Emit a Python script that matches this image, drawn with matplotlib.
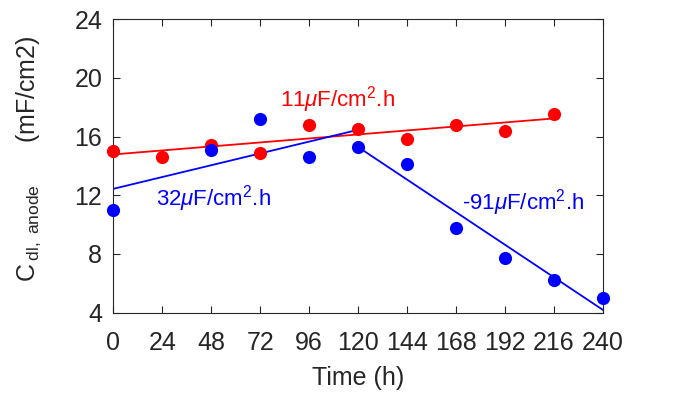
import matplotlib
matplotlib.use("Agg")
import matplotlib.pyplot as plt

plt.rcParams['font.family'] = ['Liberation Sans', 'DejaVu Sans']
plt.rcParams['mathtext.fontset'] = 'custom'
plt.rcParams['mathtext.rm'] = 'Liberation Sans'
plt.rcParams['mathtext.it'] = 'Liberation Sans:italic'
plt.rcParams['mathtext.default'] = 'regular'

# Data
time_red = [0, 24, 48, 72, 96, 120, 144, 168, 192, 216]
cdl_red = [15.0, 14.6, 15.4, 14.85, 16.8, 16.5, 15.8, 16.8, 16.35, 17.5]
time_blue = [0, 48, 72, 96, 120, 144, 168, 192, 216, 240]
cdl_blue = [11.0, 15.1, 17.2, 14.6, 15.3, 14.1, 9.8, 7.75, 6.2, 5.0]

# Fitted trend lines (endpoints)
fit_red_x = [0, 216]
fit_red_y = [14.78, 17.23]
fit_blue1_x = [0, 118]
fit_blue1_y = [12.44, 16.39]
fit_blue2_x = [122, 240]
fit_blue2_y = [15.1, 4.2]

xticks = [0, 24, 48, 72, 96, 120, 144, 168, 192, 216, 240]
yticks = [4, 8, 12, 16, 20, 24]

RED = '#ff0000'
BLUE = '#0000ff'
TXT = '#262626'

fig = plt.figure(figsize=(6.89, 3.97), dpi=100)
ax = fig.add_axes([0.1647, 0.2123, 0.7101, 0.7397])

ax.plot(fit_red_x, fit_red_y, color=RED, lw=1.3, zorder=2)
ax.plot(fit_blue1_x, fit_blue1_y, color=BLUE, lw=1.3, zorder=2)
ax.plot(fit_blue2_x, fit_blue2_y, color=BLUE, lw=1.3, zorder=2)
ax.scatter(time_red, cdl_red, s=90, color=RED, zorder=3, clip_on=False, linewidths=0)
ax.scatter(time_blue, cdl_blue, s=90, color=BLUE, zorder=4, clip_on=False, linewidths=0)

ax.text(110, 18.5, r'11$\mathit{\mu}$F/cm$^2$.h', color=RED, fontsize=16, ha='center', va='center')
ax.text(21, 11.8, r'32$\mathit{\mu}$F/cm$^2$.h', color=BLUE, fontsize=16, ha='left', va='center')
ax.text(171, 11.5, r'-91$\mathit{\mu}$F/cm$^2$.h', color=BLUE, fontsize=16, ha='left', va='center')

ax.set_xlim(0, 240)
ax.set_ylim(4, 24)
ax.set_xticks(xticks)
ax.set_yticks(yticks)
ax.tick_params(direction='in', length=5, width=0.8, top=True, right=True,
               labelsize=18, colors=TXT)
ax.tick_params(axis='x', pad=13)
ax.tick_params(axis='y', pad=8)
for sp in ax.spines.values():
    sp.set_color(TXT)
    sp.set_linewidth(0.8)

ax.set_xlabel('Time (h)', fontsize=18, color=TXT, labelpad=8)
ax.set_ylabel(r'C$\,_{\mathrm{dl,\ anode}}\quad\ \ \ $(mF/cm2)', fontsize=18, color=TXT)
ax.yaxis.set_label_coords(-0.145, 0.525)

fig.savefig('out.png', dpi=100)
